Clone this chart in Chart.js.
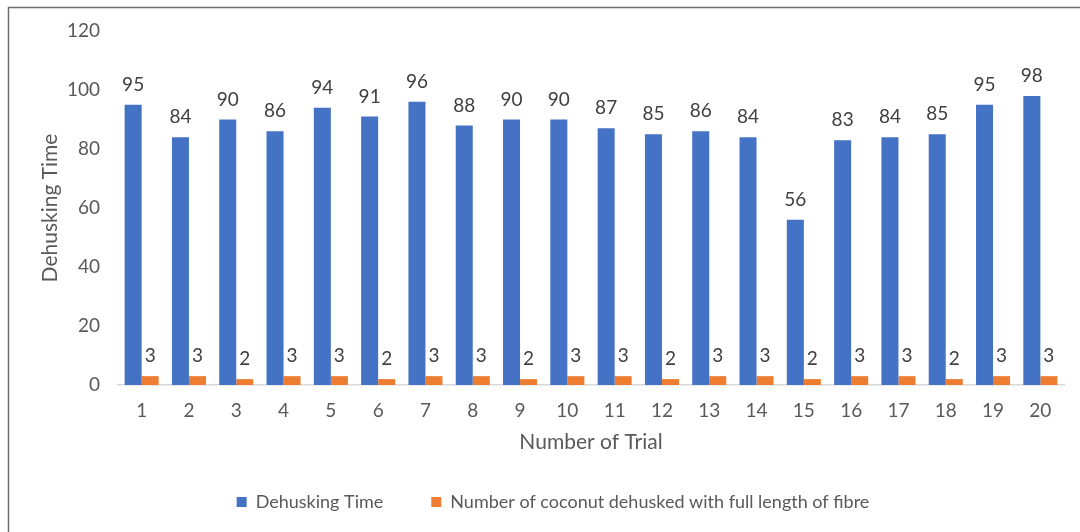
<!DOCTYPE html>
<html>
<head>
<meta charset="utf-8">
<script src="https://cdn.jsdelivr.net/npm/chart.js@4/dist/chart.umd.min.js"></script>
<style>
  html, body { margin: 0; padding: 0; background: #ffffff; }
  #wrap { width: 1080px; height: 532px; position: relative; }
</style>
</head>
<body>
<div id="wrap"><canvas id="chart" width="1080" height="532"></canvas></div>
<script>
// Trial numbers along the x axis
const trials = ['1','2','3','4','5','6','7','8','9','10','11','12','13','14','15','16','17','18','19','20'];
// Time taken to dehusk in each trial
const dehuskingTime = [95, 84, 90, 86, 94, 91, 96, 88, 90, 90, 87, 85, 86, 84, 56, 83, 84, 85, 95, 98];
// Coconuts dehusked with the full length of fibre in each trial
const fullFibreCount = [3, 3, 2, 3, 3, 2, 3, 3, 2, 3, 3, 2, 3, 3, 2, 3, 3, 2, 3, 3];
// Value axis
const yMin = 0, yMax = 120, yStep = 20;

const FONT = 'Lato, "Open Sans", sans-serif';
const TEXT = '#595959';

// Outer frame along the top and left edges
const framePlugin = {
  id: 'frame',
  beforeDraw(chart) {
    const ctx = chart.ctx;
    ctx.save();
    ctx.fillStyle = '#ffffff';
    ctx.fillRect(0, 0, chart.width, chart.height);
    ctx.strokeStyle = '#6e6e6e';
    ctx.lineWidth = 1.5;
    ctx.beginPath();
    ctx.moveTo(8.5, chart.height);
    ctx.lineTo(8.5, 7.5);
    ctx.lineTo(chart.width, 7.5);
    ctx.stroke();
    ctx.restore();
  }
};

// Value labels written above each bar
const valueLabels = {
  id: 'valueLabels',
  afterDatasetsDraw(chart) {
    const ctx = chart.ctx;
    ctx.save();
    ctx.font = '19px ' + FONT;
    ctx.fillStyle = '#404040';
    ctx.textAlign = 'center';
    ctx.textBaseline = 'middle';
    chart.data.datasets.forEach((ds, di) => {
      const meta = chart.getDatasetMeta(di);
      meta.data.forEach((bar, i) => {
        ctx.fillText(String(ds.data[i]), bar.x, bar.y - 20);
      });
    });
    ctx.restore();
  }
};

new Chart(document.getElementById('chart'), {
  type: 'bar',
  data: {
    labels: trials,
    datasets: [
      {
        label: 'Dehusking Time',
        data: dehuskingTime,
        backgroundColor: '#4472C4',
        barPercentage: 1,
        categoryPercentage: 0.72
      },
      {
        label: 'Number of coconut dehusked with full length of fibre',
        data: fullFibreCount,
        backgroundColor: '#ED7D31',
        barPercentage: 1,
        categoryPercentage: 0.72
      }
    ]
  },
  options: {
    responsive: false,
    animation: false,
    layout: { padding: { top: 31, right: 16, bottom: 11, left: 42 } },
    plugins: {
      tooltip: { enabled: false },
      legend: {
        position: 'bottom',
        labels: {
          boxWidth: 10,
          boxHeight: 10,
          padding: 48,
          color: TEXT,
          font: { family: FONT, size: 18 }
        }
      }
    },
    scales: {
      x: {
        grid: { display: false },
        border: { display: true, color: '#d9d9d9', width: 1.5 },
        ticks: { color: TEXT, font: { family: FONT, size: 19 }, padding: 6, maxRotation: 0 },
        title: {
          display: true,
          text: 'Number of Trial',
          color: TEXT,
          font: { family: FONT, size: 21 },
          padding: { top: 0, bottom: -10 }
        },
        afterFit(scale) { scale.height = 60; }
      },
      y: {
        min: yMin,
        max: yMax,
        grid: { display: false },
        border: { display: false },
        ticks: { stepSize: yStep, color: TEXT, font: { family: FONT, size: 19 }, padding: 10 },
        title: {
          display: true,
          text: 'Dehusking Time',
          color: TEXT,
          font: { family: FONT, size: 21 },
          padding: { top: -4, bottom: 0 }
        },
        afterFit(scale) { scale.width = 76; }
      }
    }
  },
  plugins: [framePlugin, valueLabels]
});
</script>
</body>
</html>
